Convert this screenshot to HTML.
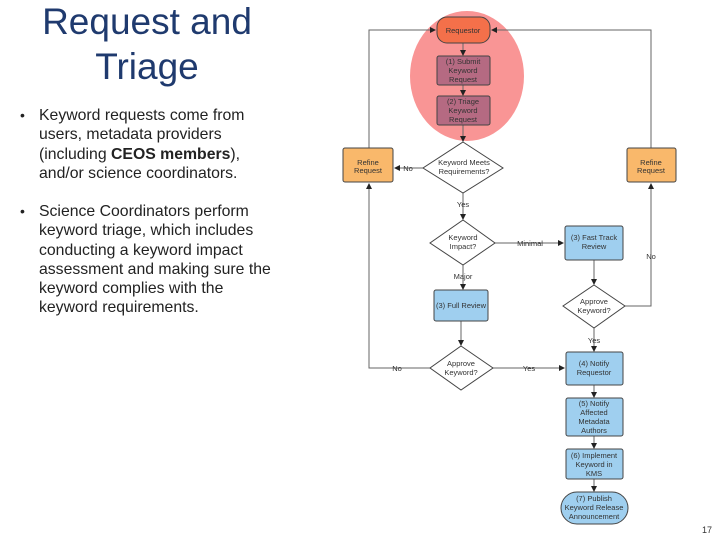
<!DOCTYPE html>
<html><head><style>
body{margin:0;width:720px;height:540px;background:#fff;position:relative;overflow:hidden;font-family:"Liberation Sans",sans-serif}
.t{position:absolute;left:0;width:294px;top:-1px;text-align:center;color:#1f3a6e;font-size:37px;line-height:45px}
.b{position:absolute;left:20px;width:300px;font-size:15.8px;line-height:19.3px;color:#222;white-space:nowrap}
.b span.d{position:absolute;left:0;font-size:14px}
.b div{margin-left:19px}
</style></head><body>
<div class="t">Request and<br>Triage</div>
<div class="b" style="top:106px"><span class="d">•</span><div>Keyword requests come from<br>users, metadata providers<br>(including <b>CEOS members</b>),<br>and/or science coordinators.</div></div>
<div class="b" style="top:202px"><span class="d">•</span><div>Science Coordinators perform<br>keyword triage, which includes<br>conducting a keyword impact<br>assessment and making sure the<br>keyword complies with the<br>keyword requirements.</div></div>
<svg width="720" height="540" style="position:absolute;left:0;top:0" font-family="Liberation Sans" font-size="7.5" text-anchor="middle">
<defs><marker id="a" markerWidth="6" markerHeight="6" refX="5" refY="3" orient="auto"><path d="M0,0L6,3L0,6z" fill="#222"/></marker></defs>
<ellipse cx="467" cy="76" rx="57" ry="65" fill="#f99595"/>
<g stroke="#666" stroke-width="1" fill="none">
<path d="M369,148V30H435" marker-end="url(#a)"/>
<path d="M651,148V30H492" marker-end="url(#a)"/>
<path d="M463,43V55" marker-end="url(#a)"/>
<path d="M463,85V95" marker-end="url(#a)"/>
<path d="M463,125V141" marker-end="url(#a)"/>
<path d="M423,168H395" marker-end="url(#a)"/>
<path d="M463,193V219" marker-end="url(#a)"/>
<path d="M495,243H563" marker-end="url(#a)"/>
<path d="M463,265V289" marker-end="url(#a)"/>
<path d="M594,260V284" marker-end="url(#a)"/>
<path d="M625,306H651V184" marker-end="url(#a)"/>
<path d="M461,321V345" marker-end="url(#a)"/>
<path d="M430,368H369V184" marker-end="url(#a)"/>
<path d="M493,368H564" marker-end="url(#a)"/>
<path d="M594,328V351" marker-end="url(#a)"/>
<path d="M594,385V397" marker-end="url(#a)"/>
<path d="M594,436V448" marker-end="url(#a)"/>
<path d="M594,479V491" marker-end="url(#a)"/>
</g>
<g stroke="#444" stroke-width="1">
<rect x="437" y="17" width="53" height="26" rx="10" fill="#f4704a"/>
<rect x="437" y="56" width="53" height="29" rx="2" fill="#b56a82"/>
<rect x="437" y="96" width="53" height="29" rx="2" fill="#b56a82"/>
<path d="M463,142L503,168L463,193L423,168z" fill="#fff"/>
<rect x="343" y="148" width="50" height="34" rx="2" fill="#f9b86b"/>
<rect x="627" y="148" width="49" height="34" rx="2" fill="#f9b86b"/>
<path d="M463,220L495,243L463,265L430,243z" fill="#fff"/>
<rect x="565" y="226" width="58" height="34" rx="2" fill="#9fcfef"/>
<rect x="434" y="290" width="54" height="31" rx="2" fill="#9fcfef"/>
<path d="M594,285L625,306L594,328L563,306z" fill="#fff"/>
<path d="M461,346L493,368L461,390L430,368z" fill="#fff"/>
<rect x="566" y="352" width="57" height="33" rx="2" fill="#9fcfef"/>
<rect x="566" y="398" width="57" height="38" rx="2" fill="#9fcfef"/>
<rect x="566" y="449" width="57" height="30" rx="2" fill="#9fcfef"/>
<rect x="561" y="492" width="67" height="32" rx="16" fill="#9fcfef"/>
</g>
<g fill="#333">
<text x="463" y="33">Requestor</text>
<text x="463" y="64">(1) Submit</text><text x="463" y="73">Keyword</text><text x="463" y="82">Request</text>
<text x="463" y="104">(2) Triage</text><text x="463" y="113">Keyword</text><text x="463" y="122">Request</text>
<text x="464" y="165">Keyword Meets</text><text x="464" y="174">Requirements?</text>
<text x="368" y="165">Refine</text><text x="368" y="173">Request</text>
<text x="651" y="165">Refine</text><text x="651" y="173">Request</text>
<text x="408" y="171">No</text>
<text x="463" y="207">Yes</text>
<text x="463" y="240">Keyword</text><text x="463" y="249">Impact?</text>
<text x="530" y="246">Minimal</text>
<text x="594" y="240">(3) Fast Track</text><text x="594" y="249">Review</text>
<text x="651" y="259">No</text>
<text x="463" y="279">Major</text>
<text x="461" y="308">(3) Full Review</text>
<text x="594" y="304">Approve</text><text x="594" y="313">Keyword?</text>
<text x="594" y="343">Yes</text>
<text x="461" y="366">Approve</text><text x="461" y="375">Keyword?</text>
<text x="397" y="371">No</text>
<text x="529" y="371">Yes</text>
<text x="594" y="366">(4) Notify</text><text x="594" y="375">Requestor</text>
<text x="594" y="406">(5) Notify</text><text x="594" y="415">Affected</text><text x="594" y="424">Metadata</text><text x="594" y="433">Authors</text>
<text x="594" y="458">(6) Implement</text><text x="594" y="467">Keyword in</text><text x="594" y="476">KMS</text>
<text x="594" y="501">(7) Publish</text><text x="594" y="510">Keyword Release</text><text x="594" y="519">Announcement</text>
<text x="707" y="533" font-size="9">17</text>
</g>
</svg>
</body></html>
